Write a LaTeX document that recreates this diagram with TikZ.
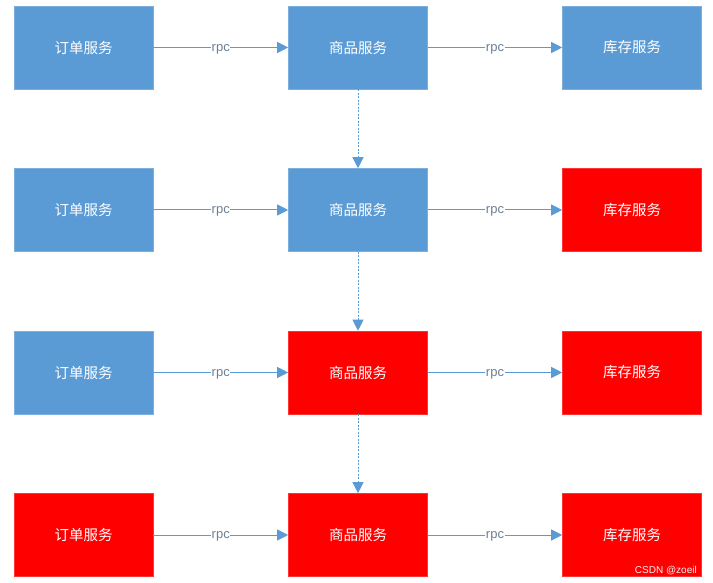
\documentclass[tikz,border=0pt]{standalone}
\usepackage{fontspec}
\newfontfamily\cjk{Noto Sans CJK SC}
\setsansfont{Liberation Sans}
\usetikzlibrary{arrows.meta}
\definecolor{svcblue}{HTML}{5B9BD5}
\definecolor{svcred}{HTML}{FF0000}
\definecolor{rpcgray}{HTML}{6C7F95}
\begin{document}
\begin{tikzpicture}[x=1pt,y=-1pt,
	svc/.style={draw=svcblue!80!white,line width=0.6pt,fill=svcblue,minimum width=139pt,minimum height=83pt,inner sep=0pt,font=\cjk\fontsize{14.5}{14.5}\selectfont,text=white},
	down/.style={svc,fill=svcred,draw=svcred!80!white},
	call/.style={-{Triangle[length=11pt,width=11pt]},draw=svcblue,line width=1pt},
	wait/.style={call,dash pattern=on 2pt off 1.5pt},
	lbl/.style={fill=white,inner sep=0.5pt,anchor=base,yshift=-3.6pt,font=\sffamily\fontsize{13}{13}\selectfont,text=rpcgray}]
	\useasboundingbox (0,0) rectangle (713,583);
	% row 1
	\node[svc] (a1) at (83.5,47.5) {订单服务};
	\node[svc] (b1) at (358,47.5) {商品服务};
	\node[svc] (c1) at (632,47.5) {库存服务};
	% row 2
	\node[svc] (a2) at (83.5,210) {订单服务};
	\node[svc] (b2) at (358,210) {商品服务};
	\node[down] (c2) at (632,210) {库存服务};
	% row 3
	\node[svc] (a3) at (83.5,372.5) {订单服务};
	\node[down] (b3) at (358,372.5) {商品服务};
	\node[down] (c3) at (632,372.5) {库存服务};
	% row 4
	\node[down] (a4) at (83.5,535) {订单服务};
	\node[down] (b4) at (358,535) {商品服务};
	\node[down] (c4) at (632,535) {库存服务};
	\foreach \r in {1,2,3,4}{
		\draw[call](a\r)--node[lbl]{rpc}(b\r);
		\draw[call](b\r)--node[lbl]{rpc}(c\r);
	}
	\draw[wait](b1)--(b2);
	\draw[wait](b2)--(b3);
	\draw[wait](b3)--(b4);
	\node[font=\sffamily\fontsize{10}{10}\selectfont,text=white!90!gray,anchor=base east,inner sep=0pt] (mark) at (697,573) {CSDN @zoeil};
\end{tikzpicture}
\end{document}
